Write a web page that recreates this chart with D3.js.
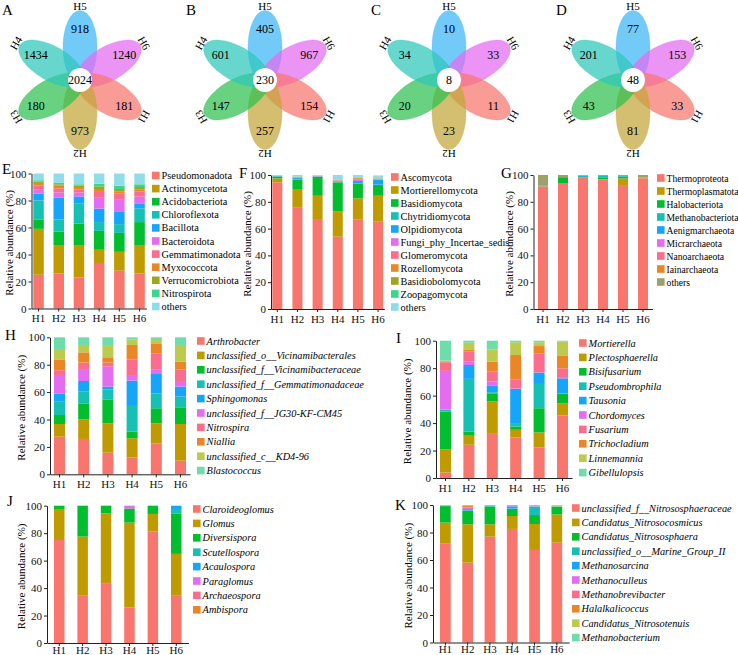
<!DOCTYPE html>
<html><head><meta charset="utf-8">
<script src="https://cdn.jsdelivr.net/npm/d3@7"></script>
<style>
body{margin:0;background:#fff;}
svg{display:block;font-family:"Liberation Serif","Times New Roman",serif;}
</style></head><body>
<svg id="c" width="738" height="655"></svg>
<script>
// ---------------- DATA ----------------
const groups = ["H1","H2","H3","H4","H5","H6"];
const yTickValues = [0,20,40,60,80,100];
const yTitle = "Relative abundance (%)";

// Flower Venn: petals clockwise from the top
const petalSets = ["H5","H6","H1","H2","H3","H4"];
const vennA = [918,1240,181,973,180,1434];
const vennB = [405,967,154,257,147,601];
const vennC = [10,33,11,23,20,34];
const vennD = [77,153,33,81,43,201];
const vennCores = [2024,230,8,48];
const vennLetters = ["A","B","C","D"];

// E: bacterial phyla (rows = taxa, columns = H1..H6)
const eCategories = ["Pseudomonadota","Actinomycetota","Acidobacteriota","Chloroflexota","Bacillota","Bacteroidota","Gemmatimonadota","Myxococcota","Verrucomicrobiota","Nitrospirota","others"];
const eValues = [
  [25,26,23,33,28,26],
  [34,21,24,10.5,14,21],
  [7,10,16,14,14,17],
  [14,9,15,6.5,6.5,10],
  [5,16,5,10,9.5,3.5],
  [3,4,3,8,9,5.5],
  [3,3,2,5,4,3.5],
  [2,2,2,1.5,1.5,1.5],
  [1,1,1,2,2,2],
  [1,1,1,2,2.5,2],
  [5,7,8,7.5,9,8]
];

// F: fungal phyla
const fCategories = ["Ascomycota","Mortierellomycota","Basidiomycota","Chytridiomycota","Olpidiomycota","Fungi_phy_Incertae_sedis","Glomeromycota","Rozellomycota","Basidiobolomycota","Zoopagomycota","others"];
const fValues = [
  [94.5,76,66.5,54,67,65.5],
  [3,13,18,19,15.5,19],
  [1.3,7.5,14,21.5,11,8],
  [0.2,0.5,0.3,0.3,0.5,0.3],
  [0.2,0.7,0.2,0.5,1.5,3.7],
  [0.1,0.5,0.1,0.4,0.8,0.3],
  [0.1,0.3,0.1,0.3,0.5,0.3],
  [0.1,0.2,0.1,0.2,0.8,0.3],
  [0.1,0.1,0.1,0.1,0.1,0.1],
  [0.1,0.1,0.1,0.1,0.1,0.1],
  [0.3,1.1,0.5,3.6,2.2,2.1]
];

// G: archaeal phyla
const gCategories = ["Thermoproteota","Thermoplasmatota","Halobacteriota","Methanobacteriota","Aenigmarchaeota","Micrarchaeota","Nanoarchaeota","Iainarchaeota","others"];
const gValues = [
  [91.5,93.3,98,96.5,92.5,97.5],
  [0.1,0.3,0.2,0.3,5,0.5],
  [0.1,4.2,0.3,1.5,1.2,0.2],
  [0.1,0.7,1,1,0.6,0.1],
  [0,0,0,0,0,0],
  [0,0,0,0,0,0],
  [0,0,0,0,0,0],
  [0.1,0,0,0,0,0.1],
  [8.1,1.5,0.5,0.7,0.7,1.6]
];

// H: bacterial genera
const hCategories = ["Arthrobacter","unclassified_o__Vicinamibacterales","unclassified_f__Vicinamibacteraceae","unclassified_f__Gemmatimonadaceae","Sphingomonas","unclassified_f__JG30-KF-CM45","Nitrospira","Niallia","unclassified_c__KD4-96","Blastococcus"];
const hValues = [
  [27.5,25.8,15.8,12.4,22.6,10],
  [9.2,14.3,21.4,13.9,14.6,26.7],
  [6.6,11.7,17.5,4.8,11,12.2],
  [9.7,8.5,7.3,18.8,10.9,7.8],
  [6,7.8,2,18.5,14.1,7.3],
  [13.5,8.1,14.6,3.4,3.4,4.1],
  [3.5,5.3,2.9,12.1,11.7,8.5],
  [7.5,7.5,3.9,10.5,6.8,5.6],
  [8,5.4,8.3,4.1,2.9,12.2],
  [8.5,5.6,6.3,1.5,2,5.6]
];

// I: fungal genera
const iCategories = ["Mortierella","Plectosphaerella","Bisifusarium","Pseudombrophila","Tausonia","Chordomyces","Fusarium","Trichocladium","Linnemannia","Gibellulopsis"];
const iValues = [
  [4,24.2,32.7,29.5,22.3,45.5],
  [17,6.6,23,5.6,10.9,9],
  [27.4,3.1,6,2.4,17.6,6.8],
  [1.2,38.3,0.8,2.5,17.7,0.5],
  [0.3,10.1,4.6,24.9,8.3,10.8],
  [28.1,2.4,3.1,0.5,0.2,0.3],
  [6.3,7.3,7.3,6.5,13.8,7],
  [0.7,1.7,7.2,17.7,5.3,9],
  [0.5,4.8,9,9.2,2.7,10.4],
  [14.5,1.5,6.3,1.2,1.2,0.7]
];

// J: AMF genera
const jCategories = ["Claroideoglomus","Glomus","Diversispora","Scutellospora","Acaulospora","Paraglomus","Archaeospora","Ambispora"];
const jValues = [
  [75,34.4,43.1,25.9,81.1,34.4],
  [22.6,43.1,51.3,61.8,12.9,30.5],
  [2.4,22.5,5.6,10.3,6,29.5],
  [0,0,0,0,0,3.2],
  [0,0,0,0,0,2.4],
  [0,0,0,2,0,0],
  [0,0,0,0,0,0],
  [0,0,0,0,0,0]
];

// K: archaeal genera
const kCategories = ["unclassified_f__Nitrososphaeraceae","Candidatus_Nitrosocosmicus","Candidatus_Nitrososphaera","unclassified_o__Marine_Group_II","Methanosarcina","Methanoculleus","Methanobrevibacter","Halalkalicoccus","Candidatus_Nitrosotenuis","Methanobacterium"];
const kValues = [
  [72.2,58.1,77,82.6,67.3,72.6],
  [15,27.9,9,9.4,18.9,20.6],
  [12,9.7,12.8,5.1,6.5,5.6],
  [0.3,0.5,0.8,0.4,6.1,0.2],
  [0.1,0.8,0.2,1.5,0.2,0],
  [0,1.2,0,0.8,0.6,0],
  [0,0.3,0,0.2,0.3,0],
  [0,1.2,0,0,0,0],
  [0.1,0.2,0.1,0,0,0.5],
  [0.3,0.1,0.1,0,0.1,0.5]
];

// ---------------- STYLES ----------------
const petalColors = ["#3BB6F6","#E46BF2","#F8766D","#C4A63A","#2EC050","#2CC8BA"];
const baseCols = ["#F8766D","#BF9B00","#00BE2E","#16C0B4","#15A5FA","#E36CF1","#FC6C8C","#EB8626"];
const phylaCols = baseCols.concat(["#9DA71B","#3AD68B","#91DCE9"]);
const archCols = baseCols.concat(["#9EA06B"]);
const genusCols = baseCols.concat(["#BCCB4E","#6EDDAC"]);
const FONT = '"Liberation Serif","Times New Roman",serif';

const svg = d3.select("#c");

// ---------------- VENN FLOWERS ----------------
const vennData = [vennA, vennB, vennC, vennD];
const vennCenters = [[80,80],[265,80],[449,80],[633,80]];
const letterX = [2,186,371,556];
vennData.forEach((vals, k) => {
  const [cx, cy] = vennCenters[k];
  const g = svg.append("g");
  g.append("text").attr("x", letterX[k]).attr("y", 15).attr("font-size", 15).text(vennLetters[k]);
  const ang = d3.scaleOrdinal().domain(petalSets).range(petalSets.map((s,i)=>-90 + 60*i));
  petalSets.forEach((s,i) => {
    const a = ang(s), r = a*Math.PI/180;
    g.append("ellipse")
      .attr("transform", `translate(${cx + 33*Math.cos(r)},${cy + 33*Math.sin(r)}) rotate(${a})`)
      .attr("rx", 36.5).attr("ry", 17)
      .attr("fill", petalColors[i]).attr("fill-opacity", 0.72)
      .attr("stroke", petalColors[i]).attr("stroke-opacity", 0.5).attr("stroke-width", 0.6);
  });
  petalSets.forEach((s,i) => {
    const a = ang(s), r = a*Math.PI/180;
    g.append("text").attr("x", cx + 51*Math.cos(r)).attr("y", cy + 51*Math.sin(r))
      .attr("text-anchor","middle").attr("dominant-baseline","central")
      .attr("font-size", 12).text(vals[i]);
    g.append("text")
      .attr("transform", `translate(${cx + 74*Math.cos(r)},${cy + 74*Math.sin(r)}) rotate(${a+90})`)
      .attr("text-anchor","middle").attr("dominant-baseline","central")
      .attr("font-size", 11).text(s);
  });
  g.append("circle").attr("cx", cx).attr("cy", cy).attr("r", 12).attr("fill", "#fff");
  g.append("text").attr("x", cx).attr("y", cy).attr("text-anchor","middle")
    .attr("dominant-baseline","central").attr("font-size", 12).text(vennCores[k]);
});

// ---------------- STACKED BAR PANELS ----------------
function panel(cfg){
  const g = svg.append("g");
  const table = groups.map((grp, j) => {
    const row = {group: grp};
    cfg.cats.forEach((c, i) => row[c] = cfg.vals[i][j]);
    return row;
  });
  const series = d3.stack().keys(cfg.cats)(table);
  const pi = 1 - cfg.barW/cfg.step, po = (cfg.first - cfg.axisX)/cfg.step;
  const W = cfg.step*(groups.length - pi + 2*po);
  const x = d3.scaleBand().domain(groups).range([cfg.axisX, cfg.axisX + W]).paddingInner(pi).paddingOuter(po);
  const y = d3.scaleLinear().domain([0,100]).range([cfg.yBot, cfg.yTop]);
  const color = d3.scaleOrdinal().domain(cfg.cats).range(cfg.colors);

  g.selectAll("g.s").data(series).join("g").attr("fill", d => color(d.key))
    .selectAll("rect").data(d => d).join("rect")
      .attr("x", d => x(d.data.group)).attr("width", x.bandwidth())
      .attr("y", d => y(d[1])).attr("height", d => Math.max(0, y(d[0]) - y(d[1])));

  const ya = g.append("g").attr("transform", `translate(${cfg.axisX},0)`)
    .call(d3.axisLeft(y).tickValues(yTickValues).tickSize(3).tickSizeOuter(0).tickPadding(2));
  const xa = g.append("g").attr("transform", `translate(0,${cfg.yBot})`)
    .call(d3.axisBottom(x).tickSize(3).tickSizeOuter(0).tickPadding(cfg.xPad));
  [ya, xa].forEach(a => {
    a.selectAll("text").attr("font-family", FONT).attr("font-size", 11).attr("fill", "#111");
    a.selectAll("path,line").attr("stroke", "#222");
  });

  g.append("text").attr("transform", `translate(${cfg.titleX},${(cfg.yTop+cfg.yBot)/2 + 2}) rotate(-90)`)
    .attr("text-anchor","middle").attr("dominant-baseline","central").attr("font-size", 11).text(yTitle);
  g.append("text").attr("x", cfg.lx).attr("y", cfg.ly).attr("font-size", 15).text(cfg.letter);

  const leg = g.append("g");
  cfg.cats.forEach((c, i) => {
    const cy = cfg.legY0 + i*cfg.legDy;
    leg.append("rect").attr("x", cfg.legX).attr("y", cy - 3.8).attr("width", 7.6).attr("height", 7.6).attr("fill", color(c));
    leg.append("text").attr("x", cfg.legX + 9.6).attr("y", cy).attr("dominant-baseline","central")
      .attr("font-size", cfg.legFont).attr("font-style", cfg.italic ? "italic" : "normal").text(c);
  });
}

panel({letter:"E", lx:2, ly:174, cats:eCategories, vals:eValues, colors:phylaCols, axisX:31.5, first:33.3, step:20.2, barW:10.5, yTop:173.5, yBot:308.5, xPad:3, titleX:9, legX:152, legY0:175.5, legDy:13.1, legFont:10.3, italic:false});
panel({letter:"F", lx:239, ly:178, cats:fCategories, vals:fValues, colors:phylaCols, axisX:271, first:272.3, step:20.15, barW:10, yTop:175, yBot:309, xPad:3, titleX:247, legX:391, legY0:177, legDy:13, legFont:10.3, italic:false});
panel({letter:"G", lx:501, ly:178, cats:gCategories, vals:gValues, colors:archCols, axisX:533.5, first:538, step:20, barW:10, yTop:175, yBot:309, xPad:3, titleX:509, legX:657, legY0:178, legDy:13, legFont:9.6, italic:false});
panel({letter:"H", lx:5, ly:340, cats:hCategories, vals:hValues, colors:genusCols, axisX:50, first:54, step:24.2, barW:11, yTop:337.3, yBot:474.3, xPad:3, titleX:21, legX:197, legY0:341, legDy:14.4, legFont:10.3, italic:true});
panel({letter:"I", lx:396, ly:343, cats:iCategories, vals:iValues, colors:genusCols, axisX:436, first:440, step:23.4, barW:11, yTop:340.7, yBot:478, xPad:3, titleX:407, legX:579, legY0:343, legDy:14.4, legFont:10.3, italic:true});
panel({letter:"J", lx:7, ly:506, cats:jCategories, vals:jValues, colors:baseCols, axisX:47, first:54, step:23.4, barW:10.5, yTop:505.7, yBot:643, xPad:0, titleX:21, legX:193, legY0:509, legDy:14.4, legFont:10.3, italic:true});
panel({letter:"K", lx:395, ly:510, cats:kCategories, vals:kValues, colors:genusCols, axisX:433, first:440, step:22.3, barW:10.7, yTop:505, yBot:642.5, xPad:0, titleX:408, legX:572, legY0:508, legDy:14.4, legFont:10.3, italic:true});
</script>
</body></html>
